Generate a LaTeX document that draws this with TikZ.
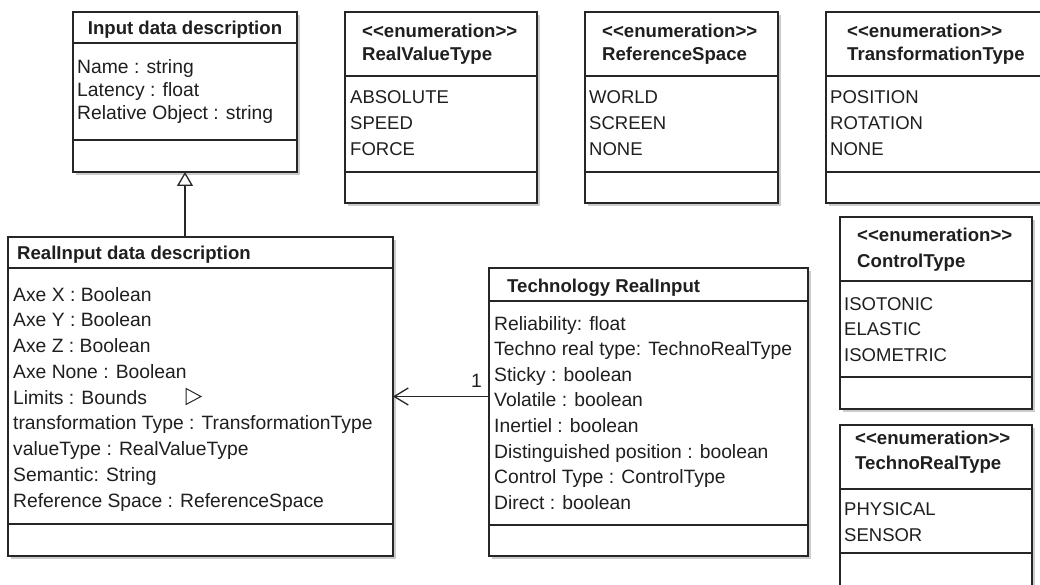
\documentclass[tikz,border=0pt]{standalone}
\usepackage{fontspec}
\setmainfont{Liberation Sans}
\usetikzlibrary{arrows.meta,shadows}
\newcommand{\stereo}{<\kern0pt<enumeration>\kern0pt>}
\begin{document}
\begin{tikzpicture}[x=1pt,y=-1pt,
  cls/.style={draw=black!85, line width=1.5pt, fill=white, rectangle, inner sep=0pt, outer sep=0pt, anchor=north west,
    drop shadow={shadow xshift=3pt, shadow yshift=-3pt, fill=black!22, opacity=0.9}},
  sep/.style={draw=black!85, line width=1.3pt},
  txt/.style={anchor=base west, inner sep=0pt, font=\fontsize{19.3}{22}\selectfont, text=black!88},
  itm/.style={anchor=base west, inner sep=0pt, font=\fontsize{18.5}{22}\selectfont, text=black!88},
  ttl/.style={anchor=base west, inner sep=0pt, font=\fontsize{18.6}{22}\selectfont\bfseries, text=black!88},
  gen/.style={draw=black!85, line width=1.3pt, -{Triangle[open, length=14pt, width=16pt, fill=white]}},
  assoc/.style={draw=black!85, line width=1.3pt, -{Straight Barb[length=14pt, width=17pt]}},
]
\useasboundingbox (0,0) rectangle (1040,585);
\clip (0,0) rectangle (1040,585);
\fill[white] (0,0) rectangle (1040,585);

% ---------- Input data description ----------
\node[cls, minimum width=224pt, minimum height=160pt] (idd) at (73,12) {};
\draw[sep] ([yshift=-31pt]idd.north west) -- ([yshift=-31pt]idd.north east);
\draw[sep] ([yshift=-128pt]idd.north west) -- ([yshift=-128pt]idd.north east);
\node[ttl, anchor=base] (idd-t) at (185,35) {Input data description};
\node[txt] (idd-1) at (77,74) {Name : string};
\node[txt] (idd-2) at (77,97) {Latency : float};
\node[txt] (idd-3) at (77,120) {Relative Object : string};

% ---------- RealInput data description ----------
\node[cls, minimum width=385pt, minimum height=319pt] (rid) at (8,237) {};
\draw[sep] ([yshift=-31pt]rid.north west) -- ([yshift=-31pt]rid.north east);
\draw[sep] ([yshift=-287pt]rid.north west) -- ([yshift=-287pt]rid.north east);
\node[ttl] (rid-t) at (17,259) {RealInput data description};
\foreach \t [count=\i] in {Axe X : Boolean, Axe Y : Boolean, Axe Z : Boolean, Axe None : Boolean,
  Limits : Bounds, transformation Type : TransformationType, valueType : RealValueType,
  Semantic: String, Reference Space : ReferenceSpace}
  \node[txt] (rid-\i) at (13,{301+25.75*(\i-1)}) {\t};
\draw[draw=black!85, line width=1pt, line join=miter] (186,388.5) -- (201,396.5) -- (186,404.5) -- cycle;

% ---------- Technology RealInput ----------
\node[cls, minimum width=319pt, minimum height=288pt] (tri) at (489,268) {};
\draw[sep] ([yshift=-33pt]tri.north west) -- ([yshift=-33pt]tri.north east);
\draw[sep] ([yshift=-257pt]tri.north west) -- ([yshift=-257pt]tri.north east);
\node[ttl] (tri-t) at (507,292) {Technology RealInput};
\foreach \t [count=\i] in {Reliability: float, Techno real type: TechnoRealType, Sticky : boolean,
  Volatile : boolean, Inertiel : boolean, Distinguished position : boolean,
  Control Type : ControlType, Direct : boolean}
  \node[txt] (tri-\i) at (494,{330+25.6*(\i-1)}) {\t};

% ---------- RealValueType ----------
\node[cls, minimum width=192pt, minimum height=191pt] (rvt) at (345,12) {};
\draw[sep] ([yshift=-64pt]rvt.north west) -- ([yshift=-64pt]rvt.north east);
\draw[sep] ([yshift=-160pt]rvt.north west) -- ([yshift=-160pt]rvt.north east);
\node[ttl] (rvt-s) at (362,37.5) {\stereo};
\node[ttl] (rvt-t) at (362,61) {RealValueType};
\node[itm] (rvt-1) at (350,103.5) {ABSOLUTE};
\node[itm] (rvt-2) at (350,129.5) {SPEED};
\node[itm] (rvt-3) at (350,155.5) {FORCE};

% ---------- ReferenceSpace ----------
\node[cls, minimum width=193pt, minimum height=191pt] (rsp) at (585,12) {};
\draw[sep] ([yshift=-64pt]rsp.north west) -- ([yshift=-64pt]rsp.north east);
\draw[sep] ([yshift=-160pt]rsp.north west) -- ([yshift=-160pt]rsp.north east);
\node[ttl] (rsp-s) at (602,37.5) {\stereo};
\node[ttl] (rsp-t) at (602,61) {ReferenceSpace};
\node[itm] (rsp-1) at (589,103.5) {WORLD};
\node[itm] (rsp-2) at (589,129.5) {SCREEN};
\node[itm] (rsp-3) at (589,155.5) {NONE};

% ---------- TransformationType ----------
\node[cls, minimum width=226pt, minimum height=191pt] (tft) at (826,12) {};
\draw[sep] ([yshift=-64pt]tft.north west) -- ([yshift=-64pt]tft.north east);
\draw[sep] ([yshift=-160pt]tft.north west) -- ([yshift=-160pt]tft.north east);
\node[ttl] (tft-s) at (847,37.5) {\stereo};
\node[ttl] (tft-t) at (847,61) {TransformationType};
\node[itm] (tft-1) at (830,103.5) {POSITION};
\node[itm] (tft-2) at (830,129.5) {ROTATION};
\node[itm] (tft-3) at (830,155.5) {NONE};

% ---------- ControlType ----------
\node[cls, minimum width=192pt, minimum height=192pt] (ctl) at (840,217) {};
\draw[sep] ([yshift=-64pt]ctl.north west) -- ([yshift=-64pt]ctl.north east);
\draw[sep] ([yshift=-160pt]ctl.north west) -- ([yshift=-160pt]ctl.north east);
\node[ttl] (ctl-s) at (857,241.5) {\stereo};
\node[ttl] (ctl-t) at (857,267) {ControlType};
\node[itm] (ctl-1) at (844,310) {ISOTONIC};
\node[itm] (ctl-2) at (844,335.5) {ELASTIC};
\node[itm] (ctl-3) at (844,361) {ISOMETRIC};

% ---------- TechnoRealType ----------
\node[cls, minimum width=192pt, minimum height=200pt] (trt) at (840,425) {};
\draw[sep] ([yshift=-64pt]trt.north west) -- ([yshift=-64pt]trt.north east);
\draw[sep] ([yshift=-128pt]trt.north west) -- ([yshift=-128pt]trt.north east);
\node[ttl] (trt-s) at (855,444) {\stereo};
\node[ttl] (trt-t) at (855,469.5) {TechnoRealType};
\node[itm] (trt-1) at (844,515) {PHYSICAL};
\node[itm] (trt-2) at (844,541) {SENSOR};

% ---------- connectors ----------
\draw[gen] (idd.south |- rid.north) -- (idd.south);
\draw[assoc] (tri.west |- rid.east) -- (rid.east);
\node[txt, anchor=base east] (one) at (482,387) {1};

\end{tikzpicture}
\end{document}
